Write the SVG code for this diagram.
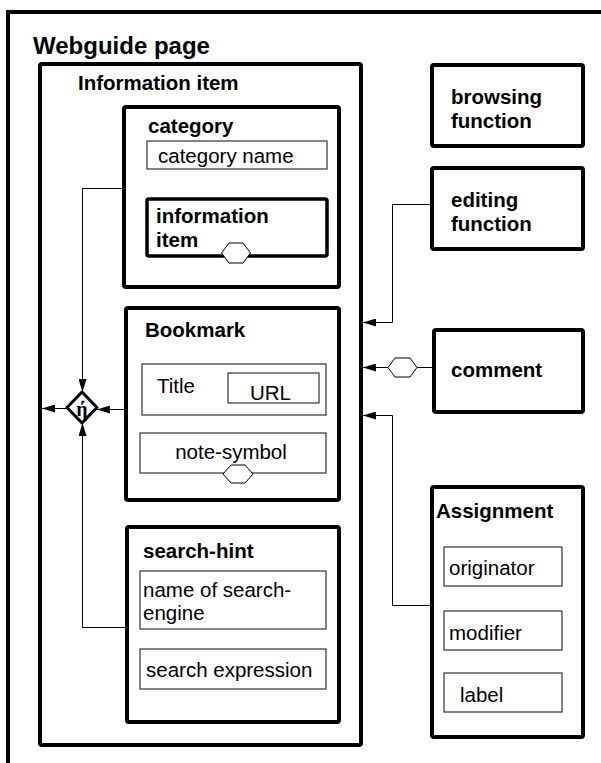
<svg xmlns="http://www.w3.org/2000/svg" width="601" height="763" viewBox="0 0 601 763">
<style>
.thick{fill:#fff;stroke:#000;stroke-width:4;stroke-linejoin:round}
.mid{fill:#fff;stroke:#000;stroke-width:3.5;stroke-linejoin:round}
.thin{fill:#fff;stroke:#333;stroke-width:1.2}
.conn{fill:none;stroke:#000;stroke-width:1}
.hex{fill:#fff;stroke:#000;stroke-width:1}
.b{font-family:"Liberation Sans",Arial,sans-serif;font-weight:bold;font-size:20.5px;fill:#000}
.r{font-family:"Liberation Sans",Arial,sans-serif;font-size:20.5px;fill:#000}
</style>
<defs>
<marker id="arr" viewBox="0 0 13 8" refX="13" refY="4" markerWidth="13" markerHeight="8" markerUnits="userSpaceOnUse" orient="auto">
<path d="M0,0 L13,4 L0,8 Z" fill="#000"/>
</marker>
</defs>
<rect width="601" height="763" fill="#fff"/>
<g id="webguide-page">
<path d="M8,763 V12 H605" fill="none" stroke="#000" stroke-width="4"/>
<text class="b" x="33" y="54" style="font-size:24px">Webguide page</text>
</g>
<g id="information-item">
<rect class="thick" x="40" y="64" width="321" height="681" rx="2"/>
<text class="b" x="78" y="90">Information item</text>
</g>
<g id="category">
<rect class="thick" x="124" y="107" width="215" height="180" rx="2"/>
<text class="b" x="148" y="133">category</text>
<rect class="thin" x="147" y="141" width="180" height="28"/>
<text class="r" x="158" y="163">category name</text>
<rect class="mid" x="147" y="199" width="180" height="57" rx="2"/>
<text class="b" x="156" y="223">information</text>
<text class="b" x="156" y="247">item</text>
<polygon class="hex" points="221.5,253 229,243 243,243 250.5,253 243,263 229,263"/>
</g>
<g id="bookmark">
<rect class="thick" x="126" y="308" width="213" height="192" rx="2"/>
<text class="b" x="145" y="337">Bookmark</text>
<rect class="thin" x="142" y="364" width="184" height="51"/>
<text class="r" x="157" y="393">Title</text>
<rect class="thin" x="228" y="373" width="91" height="30"/>
<text class="r" x="250" y="400">URL</text>
<rect class="thin" x="140" y="433" width="186" height="40"/>
<text class="r" x="231" y="459" text-anchor="middle">note-symbol</text>
<polygon class="hex" points="223,474 231,465 245,465 253,474 245,483 231,483"/>
</g>
<g id="search-hint">
<rect class="thick" x="127" y="527" width="212" height="195" rx="2"/>
<text class="b" x="143" y="558">search-hint</text>
<rect class="thin" x="140" y="571" width="186" height="58"/>
<text class="r" x="143" y="597">name of search-</text>
<text class="r" x="143" y="620">engine</text>
<rect class="thin" x="140" y="649" width="186" height="40"/>
<text class="r" x="146" y="677">search expression</text>
</g>
<g id="xor">
<polygon points="82,392 97,407.5 82,423 67,407.5" fill="#fff" stroke="#000" stroke-width="3" stroke-linejoin="round"/>
<text x="82" y="416" text-anchor="middle" style="font-family:'Liberation Serif','Times New Roman',serif;font-weight:bold;font-size:20px">ή</text>
</g>
<g id="browsing-function">
<rect class="thick" x="432" y="65" width="151" height="81" rx="2"/>
<text class="b" x="451" y="104">browsing</text>
<text class="b" x="451" y="128">function</text>
</g>
<g id="editing-function">
<rect class="thick" x="432" y="168" width="151" height="81" rx="2"/>
<text class="b" x="451" y="207">editing</text>
<text class="b" x="451" y="231">function</text>
</g>
<g id="comment">
<rect class="thick" x="434" y="330" width="149" height="82" rx="2"/>
<text class="b" x="451" y="377">comment</text>
</g>
<g id="assignment">
<rect class="thick" x="432" y="487" width="151" height="250" rx="2"/>
<text class="b" x="436" y="518">Assignment</text>
<rect class="thin" x="444" y="547" width="118" height="39"/>
<text class="r" x="449" y="575">originator</text>
<rect class="thin" x="444" y="611" width="118" height="39"/>
<text class="r" x="449" y="640">modifier</text>
<rect class="thin" x="444" y="673" width="118" height="39"/>
<text class="r" x="460" y="702">label</text>
</g>
<g id="connectors">
<path class="conn" d="M430,204.5 H392.5 V322.5 H363" marker-end="url(#arr)"/>
<path class="conn" d="M432,367.5 H417"/>
<polygon class="hex" points="388,367.5 395,358 410,358 417,367.5 410,377 395,377"/>
<path class="conn" d="M388,367.5 H363" marker-end="url(#arr)"/>
<path class="conn" d="M430,605.5 H392.5 V415.5 H363" marker-end="url(#arr)"/>
<path class="conn" d="M122,188.5 H82.5 V392" marker-end="url(#arr)"/>
<path class="conn" d="M124,409.5 H97" marker-end="url(#arr)"/>
<path class="conn" d="M67,408.5 H42" marker-end="url(#arr)"/>
<path class="conn" d="M125,627.5 H82.5 V423" marker-end="url(#arr)"/>
</g>
</svg>
